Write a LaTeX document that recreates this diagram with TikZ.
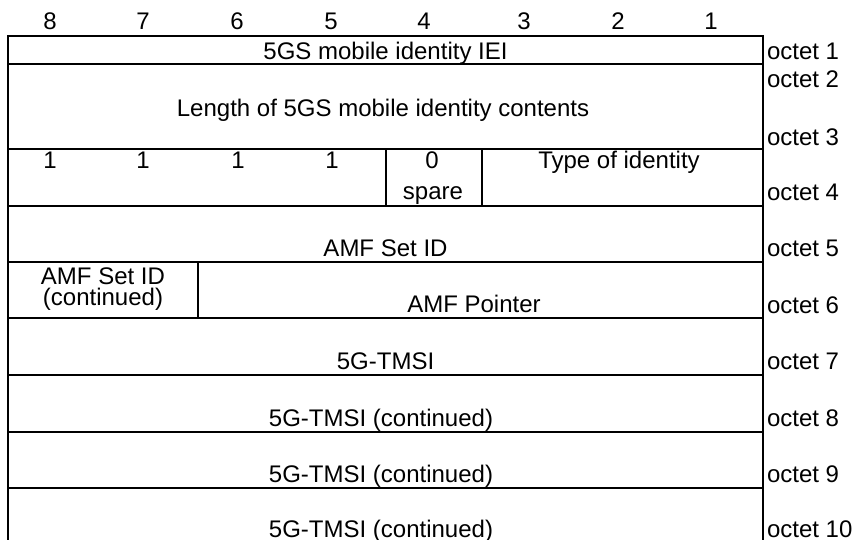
\documentclass[tikz,border=0pt]{standalone}
\usepackage{fontspec}
\setmainfont{Liberation Sans}
\begin{document}
\begin{tikzpicture}[x=0.5pt,y=-0.5pt,
  every node/.style={inner sep=0pt,outer sep=0pt,font=\fontsize{12pt}{14pt}\selectfont},
  lbl/.style={anchor=base},
  oct/.style={anchor=base west},
  rule/.style={line width=1pt,line cap=rect}]
\useasboundingbox (0,0) rectangle (856,540);
% frame lines
\draw[rule] (8,36) -- (763,36);
\foreach \yy in {64,149,206,262,318,375,432,488}
  \draw[rule] (8,\yy) -- (763,\yy);
\draw[line width=1pt] (8,35.5) -- (8,540);
\draw[line width=1pt] (763,35.5) -- (763,540);
\draw[line width=1pt] (386,149) -- (386,206);
\draw[line width=1pt] (482,149) -- (482,206);
\draw[line width=1pt] (198,262) -- (198,318);
% bit numbers
\node[lbl] (b8) at (50,30) {8};
\node[lbl] (b7) at (143,30) {7};
\node[lbl] (b6) at (237,30) {6};
\node[lbl] (b5) at (331,30) {5};
\node[lbl] (b4) at (424,30) {4};
\node[lbl] (b3) at (524,30) {3};
\node[lbl] (b2) at (618,30) {2};
\node[lbl] (b1) at (711,30) {1};
% contents
\node[lbl] (iei) at (385.5,60) {5GS mobile identity IEI};
\node[lbl] (len) at (383,117) {Length of 5GS mobile identity contents};
\node[lbl] (o41) at (50,168) {1};
\node[lbl] (o42) at (143,168) {1};
\node[lbl] (o43) at (238,168) {1};
\node[lbl] (o44) at (332,168) {1};
\node[lbl] (zero) at (432,168) {0};
\node[lbl] (spare) at (433,199) {spare};
\node[lbl] (type) at (619,168) {Type of identity};
\node[lbl] (amfset) at (385.5,256) {AMF Set ID};
\node[lbl] (amfsetc1) at (103,284) {AMF Set ID};
\node[lbl] (amfsetc2) at (103,305) {(continued)};
\node[lbl] (amfptr) at (474,312) {AMF Pointer};
\node[lbl] (tmsi) at (385.5,369) {5G-TMSI};
\node[lbl] (tmsi2) at (381,426) {5G-TMSI (continued)};
\node[lbl] (tmsi3) at (381,482) {5G-TMSI (continued)};
\node[lbl] (tmsi4) at (381,537) {5G-TMSI (continued)};
% octet labels
\node[oct] (oc1) at (767,60) {octet 1};
\node[oct] (oc2) at (767,88) {octet 2};
\node[oct] (oc3) at (767,145) {octet 3};
\node[oct] (oc4) at (767,200) {octet 4};
\node[oct] (oc5) at (767,256) {octet 5};
\node[oct] (oc6) at (767,313) {octet 6};
\node[oct] (oc7) at (767,369) {octet 7};
\node[oct] (oc8) at (767,426) {octet 8};
\node[oct] (oc9) at (767,482) {octet 9};
\node[oct] (oc10) at (767,537) {octet 10};
\end{tikzpicture}
\end{document}
